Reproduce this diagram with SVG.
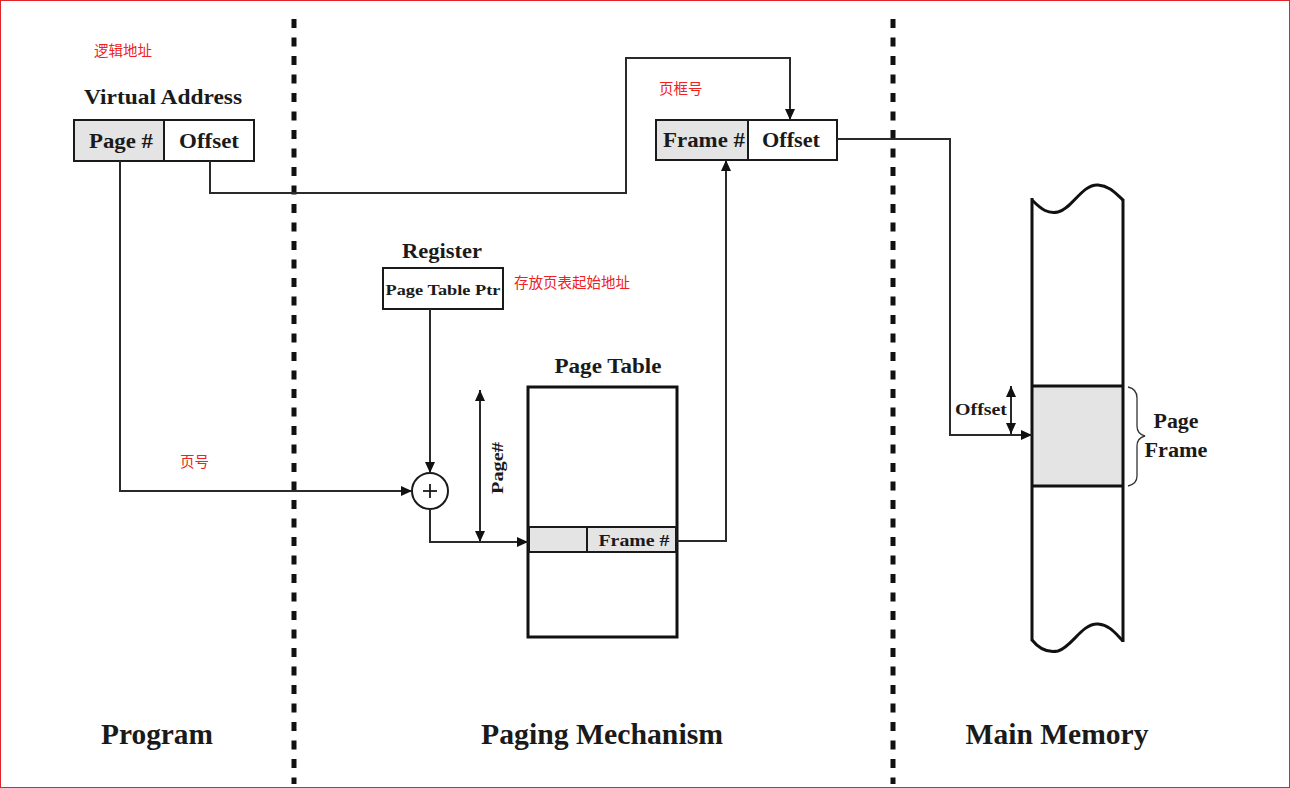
<svg xmlns="http://www.w3.org/2000/svg" width="1290" height="788" viewBox="0 0 1290 788">
<defs>
<marker id="ah" markerUnits="userSpaceOnUse" markerWidth="12" markerHeight="10" refX="11" refY="5" orient="auto-start-reverse">
<path d="M0,0 L11,5 L0,10 Z" fill="#111"/>
</marker>
</defs>
<style>
.lbl{font-family:"Liberation Serif","Times New Roman",serif;font-weight:bold;fill:#1a1a1a}
.cn{font-family:"Noto Sans CJK SC","Noto Sans",sans-serif;fill:#ee2222;font-size:14.5px}
.box{fill:#fff;stroke:#1a1a1a;stroke-width:2}
.gray{fill:#e4e4e4;stroke:#1a1a1a;stroke-width:2}
.thick{fill:none;stroke:#111;stroke-width:3}
.con{fill:none;stroke:#2a2a2a;stroke-width:2}
.arr{marker-end:url(#ah)}
.dbl{marker-start:url(#ah);marker-end:url(#ah)}
.sep{stroke:#111;stroke-width:5;stroke-dasharray:9 9.5}
</style>
<rect x="0" y="0" width="1290" height="788" fill="#fff"/>
<rect x="0.5" y="0.5" width="1289" height="787" fill="none" stroke="#e0242c" stroke-width="1"/>

<g id="separators">
<line class="sep" x1="294" y1="19" x2="294" y2="784"/>
<line class="sep" x1="893" y1="19" x2="893" y2="784"/>
</g>

<g id="virtual-address">
<text class="lbl" x="163" y="104" font-size="21" text-anchor="middle" textLength="158" lengthAdjust="spacingAndGlyphs">Virtual Address</text>
<rect class="gray" x="74" y="120" width="90" height="41"/>
<rect class="box" x="164" y="120" width="90" height="41"/>
<text class="lbl" x="121" y="148" font-size="20" text-anchor="middle" textLength="64" lengthAdjust="spacingAndGlyphs">Page #</text>
<text class="lbl" x="209" y="148" font-size="20" text-anchor="middle" textLength="60" lengthAdjust="spacingAndGlyphs">Offset</text>
</g>
<g id="label-logical"><text class="cn" x="94" y="56">逻辑地址</text></g>

<g id="physical-address">
<rect class="gray" x="656" y="120" width="92" height="40"/>
<rect class="box" x="748" y="120" width="89" height="40"/>
<text class="lbl" x="704" y="147" font-size="20" text-anchor="middle" textLength="82" lengthAdjust="spacingAndGlyphs">Frame #</text>
<text class="lbl" x="791" y="147" font-size="20" text-anchor="middle" textLength="58" lengthAdjust="spacingAndGlyphs">Offset</text>
</g>
<g id="label-frame"><text class="cn" x="659" y="94">页框号</text></g>

<g id="register">
<text class="lbl" x="442" y="258" font-size="20" text-anchor="middle" textLength="80" lengthAdjust="spacingAndGlyphs">Register</text>
<rect class="box" x="383" y="268" width="120" height="41"/>
<text class="lbl" x="443" y="295" font-size="15" text-anchor="middle" textLength="115" lengthAdjust="spacingAndGlyphs">Page Table Ptr</text>
</g>
<g id="label-ptr"><text class="cn" x="514" y="288">存放页表起始地址</text></g>

<g id="adder">
<circle cx="430" cy="491" r="18" fill="#fff" stroke="#1a1a1a" stroke-width="2"/>
<line x1="423" y1="491" x2="437" y2="491" stroke="#1a1a1a" stroke-width="1.8"/>
<line x1="430" y1="484" x2="430" y2="498" stroke="#1a1a1a" stroke-width="1.8"/>
</g>

<g id="page-table">
<text class="lbl" x="608" y="373" font-size="20" text-anchor="middle" textLength="107" lengthAdjust="spacingAndGlyphs">Page Table</text>
<rect x="528" y="387" width="149" height="250" fill="#fff" stroke="#111" stroke-width="3"/>
<rect class="gray" x="529" y="527" width="147" height="25"/>
<line x1="587" y1="527" x2="587" y2="552" stroke="#1a1a1a" stroke-width="2"/>
<text class="lbl" x="634" y="546" font-size="17" text-anchor="middle" textLength="71" lengthAdjust="spacingAndGlyphs">Frame #</text>
</g>

<g id="page-index">
<line class="con dbl" x1="480" y1="390" x2="480" y2="542"/>
<text class="lbl" font-size="17" text-anchor="middle" transform="translate(503,468) rotate(-90)" textLength="52" lengthAdjust="spacingAndGlyphs">Page#</text>
</g>

<g id="main-memory">
<rect x="1032" y="386" width="91" height="100" fill="#e4e4e4"/>
<path class="thick" d="M1032,200 C1042,210 1048,214 1058,212 C1072,209 1082,184 1098,185 C1110,186 1116,194 1123,200"/>
<path class="thick" d="M1032,640 C1040,650 1048,653 1058,651 C1072,647 1082,623 1098,624 C1110,625 1116,634 1123,641"/>
<line class="thick" x1="1032" y1="198" x2="1032" y2="641"/>
<line class="thick" x1="1123" y1="199" x2="1123" y2="642"/>
<line class="thick" x1="1032" y1="386" x2="1123" y2="386"/>
<line class="thick" x1="1032" y1="486" x2="1123" y2="486"/>
<path d="M1128,387 Q1137,389 1137,398 L1137,426 Q1137,434 1145,436 Q1137,438 1137,446 L1137,476 Q1137,484 1128,486" fill="none" stroke="#333" stroke-width="1.3"/>
<text class="lbl" x="1176" y="428" font-size="20" text-anchor="middle" textLength="45" lengthAdjust="spacingAndGlyphs">Page</text>
<text class="lbl" x="1176" y="457" font-size="20" text-anchor="middle" textLength="63" lengthAdjust="spacingAndGlyphs">Frame</text>
<text class="lbl" x="955" y="415" font-size="16" textLength="52" lengthAdjust="spacingAndGlyphs">Offset</text>
</g>
<g id="label-page"><text class="cn" x="180" y="467">页号</text></g>

<g id="connectors">
<path class="con arr" d="M120,161 L120,491 L412,491"/>
<path class="con arr" d="M210,161 L210,193 L626,193 L626,58 L790,58 L790,120"/>
<path class="con arr" d="M430,309 L430,473"/>
<path class="con arr" d="M430,509 L430,542 L528,542"/>
<path class="con arr" d="M677,541 L726,541 L726,160"/>
<path class="con arr" d="M837,139 L950,139 L950,435 L1032,435"/>
<line class="con dbl" x1="1011" y1="386" x2="1011" y2="434"/>
</g>

<g id="column-titles">
<text class="lbl" x="157" y="744" font-size="29" text-anchor="middle" textLength="112" lengthAdjust="spacingAndGlyphs">Program</text>
<text class="lbl" x="602" y="744" font-size="29" text-anchor="middle" textLength="242" lengthAdjust="spacingAndGlyphs">Paging Mechanism</text>
<text class="lbl" x="1057" y="744" font-size="29" text-anchor="middle" textLength="183" lengthAdjust="spacingAndGlyphs">Main Memory</text>
</g>
</svg>
